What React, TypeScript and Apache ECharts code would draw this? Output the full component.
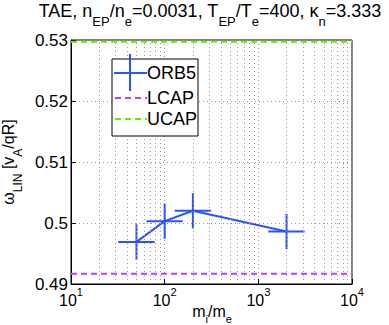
import React, { useEffect, useRef } from "react";
import * as echarts from "echarts";

// ---- data ----
const massRatio = [50, 100, 200, 2000];
const omegaLin = [0.4969, 0.5003, 0.502, 0.4986];
const omegaLow = [0.494, 0.4974, 0.4991, 0.4957];
const omegaHigh = [0.4998, 0.5032, 0.5049, 0.5015];
const massLow = [32, 64, 128, 1280];
const massHigh = [78, 156, 312, 3120];
const lcapValue = 0.4917;
const ucapValue = 0.5297;
const xRange = [10, 10000];
const yTicks = [0.49, 0.5, 0.51, 0.52, 0.53];
const minorGridX = [20, 30, 40, 50, 60, 70, 80, 90, 200, 300, 400, 500, 600, 700, 800, 900, 2000, 3000, 4000, 5000, 6000, 7000, 8000, 9000];
const legendNames = ["ORB5", "LCAP", "UCAP"];

const BLUE = "#2a52ff";
const MAGENTA = "#c040f0";
const GREEN = "#5ef000";
const FONT = "'Liberation Sans', Arial, Helvetica, sans-serif";

export default function App() {
  const ref = useRef<HTMLDivElement>(null);
  useEffect(() => {
    if (!ref.current) return;
    const chart = echarts.init(ref.current, null, { renderer: "svg" });
    const gridLeft = 71, gridTop = 40, gridRight = 352, gridBottom = 284;
    const errData = massRatio.map((m, i) => [m, omegaLin[i], omegaLow[i], omegaHigh[i], massLow[i], massHigh[i]]);
    const supRich = {
      b: { fontSize: 16, fontFamily: FONT, color: "#000", verticalAlign: "bottom", lineHeight: 22 },
      s: { fontSize: 11, fontFamily: FONT, color: "#000", verticalAlign: "top", lineHeight: 22 },
    };
    const subRich = {
      a: { fontSize: 16, fontFamily: FONT, color: "#000", verticalAlign: "top", lineHeight: 24 },
      sub: { fontSize: 12, fontFamily: FONT, color: "#000", verticalAlign: "bottom", lineHeight: 24 },
    };
    const xNameRich = {
      a: { fontSize: 16, fontFamily: FONT, fill: "#000", color: "#000", verticalAlign: "top", lineHeight: 21 },
      sub: { fontSize: 11, fontFamily: FONT, fill: "#000", color: "#000", verticalAlign: "bottom", lineHeight: 21 },
    };
    const titleRich = {
      a: { fontSize: 18, fontFamily: FONT, fill: "#000", color: "#000", verticalAlign: "top", lineHeight: 26 },
      sub: { fontSize: 13, fontFamily: FONT, fill: "#000", color: "#000", verticalAlign: "bottom", lineHeight: 26 },
    };
    const lx = 112, ly = 59, lw = 86, lh = 77;
    chart.setOption({
      animation: false,
      grid: {
        left: gridLeft,
        top: gridTop,
        right: 389 - gridRight,
        bottom: 325 - gridBottom,
        outerBoundsMode: "none",
        containLabel: false,
        show: true,
        borderColor: "#000",
        borderWidth: 1,
        backgroundColor: "transparent",
      },
      xAxis: {
        type: "log",
        logBase: 10,
        min: xRange[0],
        max: xRange[1],
        axisLine: { lineStyle: { color: "#000", width: 1 } },
        axisTick: { inside: true, length: 5, lineStyle: { color: "#000" } },
        axisLabel: {
          margin: 2,
          formatter: (v: number) => `{b|10}{s|${Math.round(Math.log10(v))}}`,
          rich: supRich,
        },
        splitLine: { show: true, lineStyle: { color: "#999", type: [1, 3], width: 1 } },
      },
      yAxis: {
        type: "value",
        min: yTicks[0],
        max: yTicks[yTicks.length - 1],
        interval: 0.01,
        name: "{a|ω}{sub|LIN}{a| [v}{sub|A}{a|/qR]}",
        nameLocation: "middle",
        nameRotate: 90,
        nameGap: 45,
        nameTextStyle: { rich: subRich },
        axisLine: { lineStyle: { color: "#000", width: 1 } },
        axisTick: { inside: true, length: 5, lineStyle: { color: "#000" } },
        axisLabel: { margin: 3, fontSize: 17, fontFamily: FONT, color: "#000" },
        splitLine: { show: true, lineStyle: { color: "#999", type: [1, 3], width: 1 } },
      },
      series: [
        {
          type: "line",
          name: "grid-minor",
          data: [],
          silent: true,
          markLine: {
            silent: true,
            symbol: "none",
            label: { show: false },
            lineStyle: { color: "#999", type: [1, 3], width: 1 },
            data: minorGridX.map((v) => ({ xAxis: v })),
          },
        },
        {
          type: "line",
          name: legendNames[1],
          data: [[xRange[0], lcapValue], [xRange[1], lcapValue]],
          symbol: "none",
          lineStyle: { color: MAGENTA, width: 2, type: [6, 4] },
          z: 3,
        },
        {
          type: "line",
          name: legendNames[2],
          data: [[xRange[0], ucapValue], [xRange[1], ucapValue]],
          symbol: "none",
          lineStyle: { color: GREEN, width: 2, type: [6, 4] },
          z: 3,
        },
        {
          type: "line",
          name: legendNames[0],
          data: massRatio.map((m, i) => [m, omegaLin[i]]),
          symbol: "none",
          lineStyle: { color: BLUE, width: 2 },
          z: 4,
        },
        {
          type: "custom",
          name: "ORB5 errors",
          data: errData,
          encode: { x: 0, y: 1 },
          z: 4,
          renderItem: (params: any, api: any) => {
            const x = api.value(0), y = api.value(1);
            const top = api.coord([x, api.value(3)]);
            const bot = api.coord([x, api.value(2)]);
            const l = api.coord([api.value(4), y]);
            const r = api.coord([api.value(5), y]);
            const st = { stroke: BLUE, lineWidth: 2 };
            return {
              type: "group",
              children: [
                { type: "line", shape: { x1: top[0], y1: top[1], x2: bot[0], y2: bot[1] }, style: st },
                { type: "line", shape: { x1: l[0], y1: l[1], x2: r[0], y2: r[1] }, style: st },
              ],
            };
          },
        },
      ],
      graphic: [
        {
          type: "text",
          x: 210,
          y: 2,
          z: 100,
          style: {
            text: "{a|TAE, n}{sub|EP}{a|/n}{sub|e}{a|=0.0031, T}{sub|EP}{a|/T}{sub|e}{a|=400, κ}{sub|n}{a|=3.333}",
            rich: titleRich,
            align: "center",
            verticalAlign: "top",
            fontFamily: FONT,
            fontSize: 18,
            fill: "#000",
          },
        },
        {
          type: "text",
          x: 212,
          y: 303,
          z: 100,
          style: {
            text: "{a|m}{sub|i}{a|/m}{sub|e}",
            rich: xNameRich,
            align: "center",
            verticalAlign: "top",
            fontFamily: FONT,
            fontSize: 16,
            fill: "#000",
          },
        },
        { type: "rect", shape: { x: lx, y: ly, width: lw, height: lh }, style: { fill: "#fff", stroke: "#000", lineWidth: 1 }, z: 100 },
        { type: "line", shape: { x1: lx + 2, y1: 73, x2: lx + 35, y2: 73 }, style: { stroke: BLUE, lineWidth: 2 }, z: 101 },
        { type: "line", shape: { x1: lx + 18, y1: 54, x2: lx + 18, y2: 91 }, style: { stroke: BLUE, lineWidth: 2 }, z: 101 },
        { type: "line", shape: { x1: lx + 3, y1: 98, x2: lx + 35, y2: 98 }, style: { stroke: MAGENTA, lineWidth: 2, lineDash: [6, 4] }, z: 101 },
        { type: "line", shape: { x1: lx + 3, y1: 119, x2: lx + 35, y2: 119 }, style: { stroke: GREEN, lineWidth: 2, lineDash: [6, 4] }, z: 101 },
        ...legendNames.map((n, i) => ({
          type: "text",
          x: lx + 35,
          y: [73, 98, 119][i],
          z: 101,
          style: { text: n, fontSize: 18, fontFamily: FONT, fill: "#000", verticalAlign: "middle", align: "left" },
        })),
      ],
    });
    return () => chart.dispose();
  }, []);
  return <div ref={ref} style={{ width: 389, height: 325, position: "absolute", left: 0, top: 0 }} />;
}
